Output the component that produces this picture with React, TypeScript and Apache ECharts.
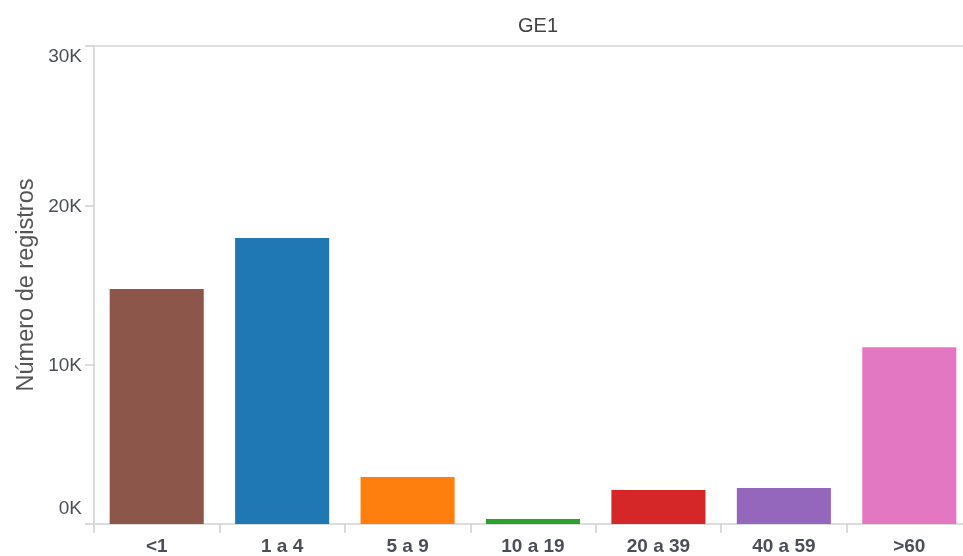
import React, { useEffect, useRef } from "react";
import * as echarts from "echarts";

const categories = ["<1", "1 a 4", "5 a 9", "10 a 19", "20 a 39", "40 a 59", ">60"];
const values = [14750, 17950, 2950, 310, 2130, 2260, 11100];
const colors = ["#8c564b", "#1f77b4", "#ff7f0e", "#2ca02c", "#d62728", "#9467bd", "#e377c2"];
const titleText = "GE1";
const yName = "Número de registros";

export default function App() {
  const ref = useRef<HTMLDivElement>(null);
  useEffect(() => {
    if (!ref.current) return;
    const chart = echarts.init(ref.current, undefined, { renderer: "svg" });
    const labelStyle = { color: "#4a4f57", fontSize: 19, fontFamily: "Liberation Sans" };
    chart.setOption({
      animation: false,
      title: {
        text: titleText,
        left: 533,
        top: 10,
        textAlign: "center",
        textStyle: { color: "#444", fontSize: 20, fontWeight: "normal", fontFamily: "Liberation Sans" },
      },
      grid: {
        left: 94,
        top: 46,
        bottom: 32,
        width: 878,
        show: true,
        borderColor: "#e0e0e0",
        borderWidth: 2,
        containLabel: false,
        outerBoundsMode: "none",
      },
      xAxis: {
        type: "category",
        data: categories,
        axisLine: { show: true, lineStyle: { color: "#dcdcdc", width: 2 } },
        axisTick: { show: true, length: 9, lineStyle: { color: "#cfcfcf", width: 1.5 } },
        axisLabel: {
          margin: 12,
          color: "#4a4f57",
          fontSize: 19,
          fontWeight: "bold",
          fontFamily: "Liberation Sans",
        },
      },
      yAxis: {
        type: "value",
        min: 0,
        max: 30000,
        interval: 10000,
        name: yName,
        nameLocation: "middle",
        nameGap: 57,
        nameTextStyle: { color: "#555", fontSize: 23.5, fontFamily: "Liberation Sans" },
        axisLine: { show: true, lineStyle: { color: "#dcdcdc", width: 2 } },
        axisTick: { show: true, length: 9, lineStyle: { color: "#cfcfcf", width: 1.5 } },
        splitLine: { show: false },
        axisLabel: {
          margin: 12,
          ...labelStyle,
          verticalAlignMinLabel: "bottom",
          verticalAlignMaxLabel: "top",
          formatter: (v: number) => (v === 0 ? `{min|${v / 1000}K}` : `${v / 1000}K`),
          rich: {
            min: { ...labelStyle, padding: [0, 0, 7, 0] },
          },
        },
      },
      series: [
        {
          type: "bar",
          barWidth: "75%",
          data: values.map((v, i) => ({ value: v, itemStyle: { color: colors[i] } })),
        },
      ],
    });
    return () => chart.dispose();
  }, []);
  return <div ref={ref} style={{ position: "fixed", left: 0, top: 0, width: 963, height: 556 }} />;
}
